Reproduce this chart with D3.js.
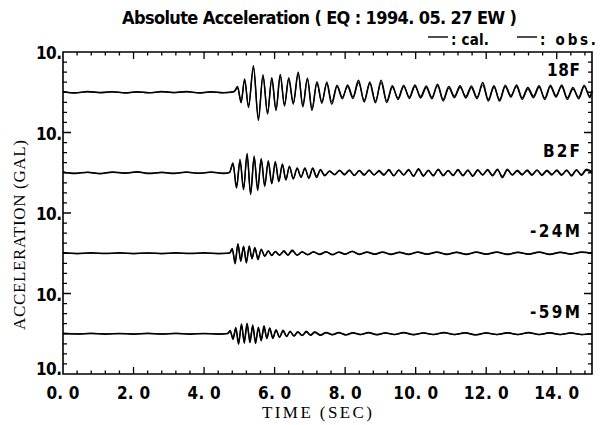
<!DOCTYPE html>
<html>
<head>
<meta charset="utf-8">
<script src="https://cdn.jsdelivr.net/npm/d3@7"></script>
<style>
  html, body { margin: 0; padding: 0; background: #fff; }
  svg { display: block; }
  .num { font-family: "Liberation Sans Narrow", "DejaVu Sans Condensed", "Liberation Sans", Arial, sans-serif; font-weight: bold; fill: #000; }
  .serif { font-family: "Liberation Serif", "DejaVu Serif", serif; fill: #000; }
</style>
</head>
<body>
<svg id="chart" width="601" height="425"></svg>
<script>
// ---- Records: turning points (time in sec, acceleration in gal) ----
const stations = ["18F", "B2F", "-24M", "-59M"];

const t18F = [0, 0.35, 0.7, 1.05, 1.4, 1.75, 2.1, 2.45, 2.8, 3.15, 3.5, 3.85, 4.2, 4.55, 4.85,
  4.95, 5.05, 5.15, 5.26, 5.40, 5.54, 5.67, 5.80, 5.92, 6.04, 6.16, 6.28, 6.40, 6.53, 6.67, 6.80, 6.93, 7.06, 7.20, 7.34,
  7.48, 7.62, 7.77, 7.92, 8.07, 8.22, 8.38, 8.54, 8.70, 8.86, 9.02, 9.18, 9.34, 9.50, 9.66, 9.82, 9.98, 10.14, 10.30, 10.46,
  10.62, 10.78, 10.94, 11.10, 11.26, 11.42, 11.58, 11.74, 11.90, 12.06, 12.22, 12.38, 12.54, 12.70, 12.86, 13.02, 13.18, 13.34,
  13.50, 13.66, 13.82, 13.98, 14.14, 14.30, 14.46, 14.62, 14.78, 14.94, 15.0];
const obs18F = [0.1, -0.2, 0.2, -0.1, 0.15, -0.2, 0.1, -0.15, 0.2, -0.1, 0.2, -0.2, 0.1, -0.15, 0.2,
  1.4, -2.6, 3.3, -3.8, 6.6, -7.0, 4.0, -5.4, 3.6, -4.2, 4.4, -3.4, 3.6, -2.6, 5.0, -3.6, 3.2, -4.5, 2.6, -2.4,
  2.2, -3.0, 1.4, -1.6, 1.8, -1.2, 3.0, -2.4, 2.2, -2.6, 3.0, -2.2, 1.6, -1.8, 1.4, -1.2, 1.8, -1.4, 1.2, -1.6,
  2.0, -1.8, 1.4, -1.0, 1.6, -1.4, 1.2, -1.6, 2.4, -1.8, 1.6, -2.2, 1.4, -1.2, 1.8, -1.4, 1.2, -1.0,
  1.6, -1.8, 1.4, -1.2, 1.8, -1.4, 1.2, -1.6, 1.4, -1.0, 0.4];
const cal18F = [0.05, -0.1, 0.1, -0.05, 0.1, -0.1, 0.05, -0.1, 0.1, -0.05, 0.1, -0.1, 0.05, -0.1, 0.1,
  1.0, -2.2, 3.0, -3.4, 6.0, -6.4, 4.4, -5.0, 3.2, -4.6, 4.0, -3.0, 3.2, -3.0, 4.6, -3.2, 3.6, -4.0, 2.2, -2.8,
  2.6, -2.4, 1.8, -1.2, 1.4, -1.6, 2.4, -2.0, 2.6, -2.2, 2.4, -2.6, 1.2, -1.4, 1.8, -1.6, 1.4, -1.0, 1.6, -1.2,
  1.6, -2.2, 1.0, -1.4, 1.2, -1.0, 1.6, -1.2, 1.8, -2.2, 1.2, -1.8, 1.8, -0.8, 1.4, -1.8, 0.8, -1.4,
  1.2, -1.4, 1.8, -0.8, 1.4, -1.8, 0.8, -1.2, 1.8, -1.4, 0.2];

const tB2F = [0, 0.35, 0.7, 1.05, 1.4, 1.75, 2.1, 2.45, 2.8, 3.15, 3.5, 3.85, 4.2, 4.55, 4.72,
  4.82, 4.92, 5.02, 5.12, 5.22, 5.32, 5.42, 5.52, 5.62, 5.72, 5.82, 5.92, 6.02, 6.12, 6.22, 6.32, 6.42, 6.53, 6.64, 6.75,
  6.86, 6.97, 7.08, 7.19, 7.30, 7.42, 7.56, 7.70, 7.84, 7.98, 8.12, 8.26, 8.40, 8.54, 8.68, 8.82, 8.96, 9.10, 9.24, 9.38,
  9.52, 9.66, 9.80, 9.94, 10.08, 10.22, 10.36, 10.50, 10.64, 10.78, 10.92, 11.06, 11.20, 11.34, 11.48, 11.62, 11.76, 11.90,
  12.04, 12.18, 12.32, 12.46, 12.60, 12.74, 12.88, 13.02, 13.16, 13.30, 13.44, 13.58, 13.72, 13.86, 14.00, 14.14, 14.28,
  14.42, 14.56, 14.70, 14.84, 15.0];
const obsB2F = [0.2, -0.2, 0.15, -0.25, 0.2, -0.1, 0.25, -0.2, 0.1, -0.2, 0.2, -0.15, 0.2, -0.2, 0.1,
  2.4, -3.8, 2.9, -4.2, 4.8, -5.4, 3.8, -4.4, 3.2, -3.4, 3.0, -2.6, 2.8, -2.2, 2.0, -1.8, 1.6, -1.4, 1.2, -1.0,
  1.2, -1.4, 1.0, -1.2, 0.8, -0.6, 0.4, -0.5, 0.6, -0.4, 0.7, -0.6, 0.5, -0.6, 0.7, -0.5, 0.4, -0.6, 0.8, -0.7,
  0.6, -0.5, 0.8, -0.9, 1.0, -0.7, 0.6, -0.8, 0.9, -0.6, 0.5, -0.7, 0.8, -0.6, 0.7, -0.9, 0.6, -0.5,
  0.8, -0.6, 0.9, -1.2, 0.7, -0.5, 0.6, -0.4, 0.5, -0.6, 0.7, -0.5, 0.6, -0.4, 0.5, -0.6, 0.7,
  -0.8, 0.6, -0.5, 0.9, 0.3];
const calB2F = [0.1, -0.1, 0.1, -0.15, 0.1, -0.05, 0.15, -0.1, 0.05, -0.1, 0.1, -0.1, 0.1, -0.1, 0.05,
  2.0, -3.2, 3.4, -3.8, 4.2, -5.0, 4.2, -3.8, 3.6, -3.0, 2.6, -2.8, 2.4, -2.0, 2.2, -1.6, 1.4, -1.6, 1.0, -1.2,
  1.0, -1.2, 1.2, -0.8, 0.6, -0.8, 0.5, -0.4, 0.5, -0.6, 0.5, -0.7, 0.6, -0.4, 0.5, -0.6, 0.6, -0.4, 0.6, -0.8,
  0.7, -0.6, 0.6, -0.7, 0.8, -0.9, 0.5, -0.6, 0.7, -0.8, 0.6, -0.5, 0.6, -0.8, 0.5, -0.7, 0.8, -0.6,
  0.6, -0.8, 0.7, -0.9, 0.9, -0.6, 0.4, -0.6, 0.7, -0.4, 0.6, -0.7, 0.4, -0.6, 0.7, -0.4, 0.5,
  -0.6, 0.8, -0.7, 0.6, 0.2];

const t24M = [0, 0.4, 0.8, 1.2, 1.6, 2.0, 2.4, 2.8, 3.2, 3.6, 4.0, 4.4, 4.72,
  4.80, 4.88, 4.96, 5.04, 5.12, 5.20, 5.28, 5.36, 5.44, 5.53, 5.62, 5.72, 5.82, 5.92, 6.02, 6.14, 6.26, 6.38, 6.50, 6.64,
  6.78, 6.94, 7.10, 7.28, 7.46, 7.64, 7.82, 8.00, 8.20, 8.40, 8.62, 8.84, 9.06, 9.30, 9.54, 9.80, 10.06, 10.32, 10.60, 10.88,
  11.16, 11.44, 11.72, 12.00, 12.30, 12.60, 12.90, 13.20, 13.50, 13.80, 14.10, 14.40, 14.70, 15.0];
const obs24M = [0.1, -0.1, 0.1, -0.05, 0.1, -0.1, 0.05, -0.1, 0.1, -0.05, 0.1, -0.1, 0.05,
  1.2, -2.6, 2.2, -2.0, 1.6, -2.4, 1.8, -1.2, 1.4, -1.6, 1.0, -0.8, 0.6, -0.5, 0.4, -0.5, 0.6, -0.4, 0.8, -0.5,
  0.4, -0.3, 0.4, -0.3, 0.3, -0.4, 0.3, -0.2, 0.5, -0.3, 0.3, -0.2, 0.3, -0.3, 0.2, -0.3, 0.3, -0.2, 0.3, -0.3,
  0.2, -0.3, 0.3, -0.2, 0.3, -0.3, 0.2, -0.2, 0.3, -0.3, 0.2, -0.2, 0.3, 0.0];
const cal24M = [0.05, -0.05, 0.05, -0.05, 0.05, -0.05, 0.05, -0.05, 0.05, -0.05, 0.05, -0.05, 0.0,
  0.8, -2.0, 2.4, -1.6, 1.8, -2.0, 1.4, -1.4, 1.2, -1.2, 0.8, -0.6, 0.5, -0.6, 0.5, -0.4, 0.4, -0.5, 0.5, -0.4,
  0.3, -0.4, 0.3, -0.2, 0.4, -0.3, 0.2, -0.3, 0.4, -0.2, 0.2, -0.3, 0.2, -0.2, 0.3, -0.2, 0.2, -0.3, 0.2, -0.2,
  0.3, -0.2, 0.2, -0.3, 0.2, -0.2, 0.3, -0.3, 0.2, -0.2, 0.3, -0.2, 0.2, 0.0];

const t59M = [0, 0.4, 0.8, 1.2, 1.6, 2.0, 2.4, 2.8, 3.2, 3.6, 4.0, 4.4, 4.66,
  4.74, 4.82, 4.90, 4.98, 5.06, 5.14, 5.22, 5.30, 5.38, 5.46, 5.54, 5.62, 5.70, 5.78, 5.86, 5.95, 6.04, 6.14, 6.24, 6.34,
  6.44, 6.55, 6.66, 6.78, 6.90, 7.02, 7.14, 7.30, 7.46, 7.64, 7.82, 8.02, 8.22, 8.44, 8.66, 8.90, 9.14, 9.40, 9.66, 9.94,
  10.22, 10.50, 10.80, 11.10, 11.40, 11.70, 12.00, 12.30, 12.60, 12.90, 13.20, 13.50, 13.80, 14.10, 14.40, 14.70, 15.0];
const obs59M = [0.1, -0.05, 0.1, -0.1, 0.05, -0.1, 0.1, -0.05, 0.1, -0.1, 0.05, -0.1, 0.05,
  0.8, -1.4, 1.2, -2.6, 2.4, -1.8, 2.6, -2.2, 1.8, -2.4, 1.6, -1.4, 2.0, -1.2, 1.4, -1.0, 1.0, -0.8, 0.9, -0.6,
  0.6, -0.5, 0.5, -0.4, 0.6, -0.3, 0.5, -0.3, 0.3, -0.2, 0.3, -0.3, 0.2, -0.2, 0.3, -0.2, 0.2, -0.2, 0.3, -0.2,
  0.2, -0.2, 0.3, -0.2, 0.2, -0.3, 0.2, -0.2, 0.2, -0.2, 0.3, -0.2, 0.2, -0.2, 0.2, -0.2, 0.0];
const cal59M = [0.05, -0.05, 0.05, -0.05, 0.05, -0.05, 0.05, -0.05, 0.05, -0.05, 0.05, -0.05, 0.0,
  0.5, -1.0, 1.6, -2.0, 2.0, -2.4, 2.2, -1.6, 2.2, -1.8, 1.2, -1.8, 1.4, -1.0, 1.2, -1.2, 0.8, -0.9, 0.6, -0.7,
  0.5, -0.6, 0.4, -0.5, 0.4, -0.4, 0.3, -0.4, 0.2, -0.3, 0.2, -0.2, 0.3, -0.2, 0.2, -0.3, 0.2, -0.2, 0.2, -0.3,
  0.2, -0.2, 0.2, -0.2, 0.3, -0.2, 0.2, -0.2, 0.3, -0.2, 0.2, -0.2, 0.3, -0.2, 0.2, -0.2, 0.0];

const times = [t18F, tB2F, t24M, t59M];
const obsSeries = [obs18F, obsB2F, obs24M, obs59M];
const calSeries = [cal18F, calB2F, cal24M, cal59M];

// Axis ticks and labels
const xMajor = [0, 2, 4, 6, 8, 10, 12, 14];
const xLabels = ["0. 0", "2. 0", "4. 0", "6. 0", "8. 0", "10. 0", "12. 0", "14. 0"];
const yBandLabel = "10.";
const yMinor = [-7.5, -5, -2.5, 0, 2.5, 5, 7.5];

// ---- Layout ----
const svg = d3.select("#chart");
const plotL = 63, plotR = 592, plotT = 52, plotB = 374;
const bandH = (plotB - plotT) / stations.length;

const x = d3.scaleLinear().domain([0, 15]).range([plotL, plotR]);
const bandY = stations.map((s, i) =>
  d3.scaleLinear().domain([-10, 10]).range([plotT + (i + 1) * bandH, plotT + i * bandH]));
const boundaryY = d3.scaleLinear().domain([0, stations.length]).range([plotT, plotB]);

// Title and legend
svg.append("text").attr("class", "num")
  .attr("x", 122).attr("y", 24).attr("font-size", 18)
  .attr("textLength", 395).attr("lengthAdjust", "spacing")
  .text("Absolute Acceleration ( EQ : 1994. 05. 27 EW )");

const legend = [{ name: ": cal.", x: 428, w: 38 }, { name: ": obs.", x: 517, w: 56 }];
legend.forEach(l => {
  svg.append("line").attr("x1", l.x).attr("x2", l.x + 20).attr("y1", 37).attr("y2", 37)
    .attr("stroke", "#000").attr("stroke-width", 1.4);
  svg.append("text").attr("class", "num").attr("font-weight", "normal")
    .attr("x", l.x + 23).attr("y", 45).attr("font-size", 15)
    .attr("textLength", l.w).attr("lengthAdjust", "spacing")
    .text(l.name);
});

// Traces: calculated first, observed on top
const trace = d3.line().x(d => x(d[0])).y(d => d[2](d[1])).curve(d3.curveMonotoneX);
stations.forEach((s, i) => {
  const yScale = bandY[i];
  [calSeries[i], obsSeries[i]].forEach((vals, k) => {
    const pts = d3.zip(times[i], vals).map(p => [p[0], p[1], yScale]);
    svg.append("path").attr("d", trace(pts))
      .attr("fill", "none").attr("stroke", "#000")
      .attr("stroke-width", k === 0 ? 1.2 : 1.5)
      .attr("stroke-linejoin", "round");
  });
});

// Frame and inward ticks, built as path data from the scales
const fp = d3.path();
fp.moveTo(x(0), boundaryY(0));
fp.lineTo(x(15), boundaryY(0));
fp.lineTo(x(15), boundaryY(stations.length));
fp.lineTo(x(0), boundaryY(stations.length));
fp.closePath();
svg.append("path").attr("d", fp.toString())
  .attr("fill", "none").attr("stroke", "#000").attr("stroke-width", 1.6);

const tp = d3.path();
stations.forEach((s, i) => {
  yMinor.forEach(v => {
    const yy = bandY[i](v);
    tp.moveTo(plotL, yy); tp.lineTo(plotL + 4, yy);
    tp.moveTo(plotR, yy); tp.lineTo(plotR - 4, yy);
  });
});
d3.range(1, stations.length).forEach(k => {
  const yy = boundaryY(k);
  tp.moveTo(plotL, yy); tp.lineTo(plotL + 8, yy);
  tp.moveTo(plotR, yy); tp.lineTo(plotR - 8, yy);
});
const xMinor = d3.range(0.4, 15, 0.4).filter(v => Math.abs(v / 2 - Math.round(v / 2)) > 1e-6);
xMinor.forEach(v => {
  tp.moveTo(x(v), plotT); tp.lineTo(x(v), plotT + 3.5);
  tp.moveTo(x(v), plotB); tp.lineTo(x(v), plotB - 3.5);
});
xMajor.slice(1).forEach(v => {
  tp.moveTo(x(v), plotT); tp.lineTo(x(v), plotT + 7);
  tp.moveTo(x(v), plotB); tp.lineTo(x(v), plotB - 7);
});
svg.append("path").attr("d", tp.toString())
  .attr("fill", "none").attr("stroke", "#000").attr("stroke-width", 1.3);

// X tick labels
xMajor.forEach((v, i) => {
  svg.append("text").attr("class", "num")
    .attr("x", x(v)).attr("y", plotB + 25)
    .attr("text-anchor", "middle").attr("font-size", 17)
    .attr("textLength", xLabels[i].length > 4 ? 45 : 33)
    .attr("lengthAdjust", "spacing")
    .text(xLabels[i]);
});

// Y band labels
d3.range(0, stations.length + 1).forEach(k => {
  const yy = boundaryY(k);
  svg.append("text").attr("class", "num")
    .attr("x", plotL - 1).attr("y", k === stations.length ? yy + 1 : yy + 7)
    .attr("text-anchor", "end").attr("font-size", 17)
    .attr("textLength", 26).attr("lengthAdjust", "spacing")
    .text(yBandLabel);
});

// Station names inside each band
const nameWidth = { "18F": 33, "B2F": 37, "-24M": 50, "-59M": 50 };
stations.forEach((s, i) => {
  svg.append("text").attr("class", "num")
    .attr("x", 580).attr("y", plotT + i * bandH + 24)
    .attr("text-anchor", "end").attr("font-size", 17)
    .attr("textLength", nameWidth[s]).attr("lengthAdjust", "spacing")
    .text(s);
});

// Axis titles
svg.append("text").attr("class", "serif")
  .attr("transform", "translate(25,235) rotate(-90)")
  .attr("text-anchor", "middle").attr("font-size", 17)
  .attr("textLength", 190).attr("lengthAdjust", "spacing")
  .text("ACCELERATION (GAL)");
svg.append("text").attr("class", "serif")
  .attr("x", 317).attr("y", 418)
  .attr("text-anchor", "middle").attr("font-size", 17)
  .attr("textLength", 110).attr("lengthAdjust", "spacing")
  .text("TIME (SEC)");
</script>
</body>
</html>
